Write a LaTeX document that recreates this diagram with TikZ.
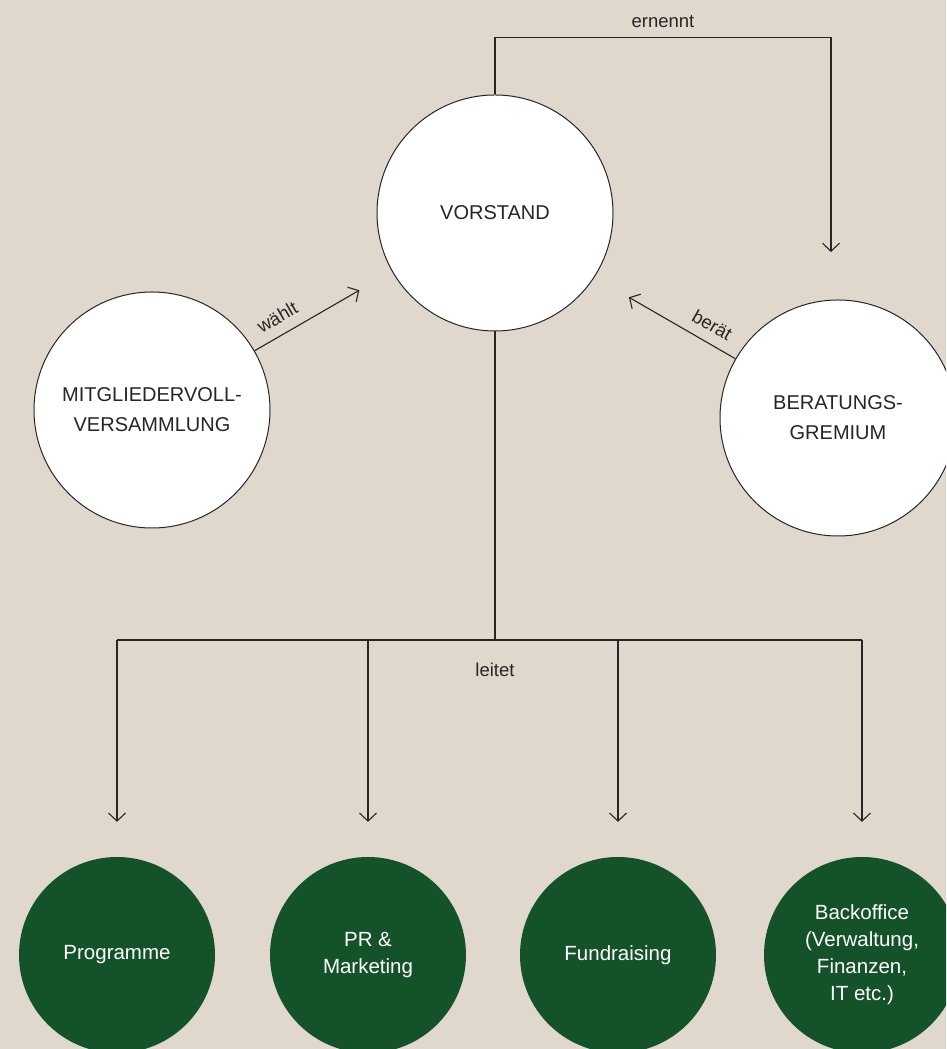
\documentclass[tikz,border=0pt]{standalone}
\usepackage{fontspec}
\setmainfont{Liberation Sans}
\usetikzlibrary{arrows.meta, positioning}
\definecolor{bgbeige}{RGB}{224,215,205}
\definecolor{orggreen}{RGB}{20,82,42}
\definecolor{inkgray}{RGB}{38,38,38}

\begin{document}
\begin{tikzpicture}[x=1pt, y=1pt,
    whitecircle/.style={circle, draw=inkgray, line width=1pt, fill=white, minimum size=236pt,
      inner sep=0pt, align=center, text=inkgray, font=\fontsize{20}{30}\selectfont},
    greencircle/.style={circle, fill=orggreen, minimum size=196pt, inner sep=0pt,
      align=center, text=white, font=\fontsize{20.5}{27}\selectfont},
    arr/.style={draw=inkgray, line width=1.1pt, -{Straight Barb[length=8pt, width=17pt, line width=1.1pt]}},
    conn/.style={draw=inkgray, line width=1.1pt},
    lbl/.style={text=inkgray, font=\fontsize{18.5}{22}\selectfont}]
        \useasboundingbox (0,0) rectangle (946,1049);
        \clip (0,0) rectangle (946,1049);
        \fill[bgbeige] (0,0) rectangle (946,1049);

        % Leitung und Gremien
        \node[whitecircle] (vorstand) at (495,836) {VORSTAND};
        \node[whitecircle] (mitglieder) at (152,639) {MITGLIEDERVOLL-\\VERSAMMLUNG};
        \node[whitecircle] (beratung) at (838,631) {BERATUNGS-\\GREMIUM};

        % Bereiche
        \node[greencircle] (programme) at (117,94) {Programme};
        \node[greencircle] (pr) at (368,94) {PR \&\\Marketing};
        \node[greencircle] (fundraising) at (618,94) {Fundraising};
        \node[greencircle] (backoffice) at (862,94) {Backoffice\\(Verwaltung,\\Finanzen,\\IT etc.)};

        % ernennt
        \coordinate (ernenntEnd) at (831,797);
        \draw[arr] (vorstand.north) -- ++(0,57) -| (ernenntEnd)
          node[lbl, pos=0.25, above=6pt] {ernennt};

        % waehlt / beraet
        \draw[arr] (mitglieder.30) -- ++(30:121)
          node[lbl, pos=0.3, sloped, above=7pt] {wählt};
        \draw[arr] (beratung.150) -- ++(150:123)
          node[lbl, pos=0.3, sloped, above=7pt] {berät};

        % leitet
        \coordinate (hub) at (495,409);
        \draw[conn] (vorstand.south) -- (hub);
        \draw[conn] (programme.north |- hub) -- (backoffice.north |- hub);
        \node[lbl, below=20pt of hub] {leitet};
        \foreach \unit in {programme, pr, fundraising, backoffice}
          \draw[arr] (\unit.north |- hub) -- ([yshift=35pt]\unit.north);
\end{tikzpicture}
\end{document}
